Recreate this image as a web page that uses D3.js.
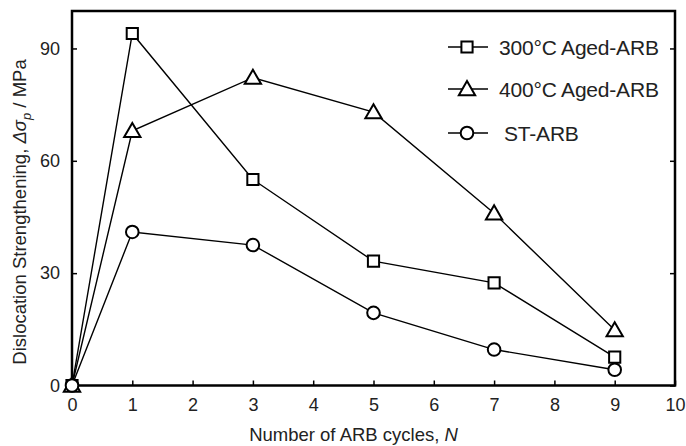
<!DOCTYPE html>
<html><head><meta charset="utf-8">
<script src="https://cdn.jsdelivr.net/npm/d3@7/dist/d3.min.js"></script>
<style>body{margin:0;background:#fff}svg{display:block}text{font-family:"Liberation Sans",Arial,sans-serif;fill:#222}</style>
</head><body><svg id="c" width="686" height="446"></svg>
<script>
const cycles = [0, 1, 3, 5, 7, 9];
const aged300 = [0, 94, 55, 33.2, 27.4, 7.6];
const aged400 = [0, 68, 82.2, 73, 46, 14.8];
const stARB = [0, 41, 37.5, 19.4, 9.6, 4.2];
const seriesNames = ["300°C Aged-ARB", "400°C Aged-ARB", "ST-ARB"];
const xTicks = [0,1,2,3,4,5,6,7,8,9,10];
const yTicks = [0,30,60,90];

const svg = d3.select("#c");
const L=72, R=675, T=11, B=385.5;
const x = d3.scaleLinear().domain([0,10]).range([L,R]);
const y = d3.scaleLinear().domain([0,100]).range([B,T]);

// axes
const xa = svg.append("g").attr("transform",`translate(0,${B})`)
  .call(d3.axisBottom(x).tickValues(xTicks).tickSize(-5).tickPadding(13).tickFormat(d3.format("d")));
const ya = svg.append("g").attr("transform",`translate(${L},0)`)
  .call(d3.axisLeft(y).tickValues(yTicks).tickSize(-5).tickPadding(12).tickFormat(d3.format("d")));
const yr = svg.append("g").attr("transform",`translate(${R},0)`)
  .call(d3.axisRight(y).tickValues(yTicks).tickSize(-5).tickFormat(""));
[xa,ya,yr].forEach(g=>{g.select(".domain").remove();g.selectAll(".tick line").attr("stroke","#000").attr("stroke-width",1.5);
  g.selectAll(".tick text").attr("font-size",18).attr("font-family","Liberation Sans, Arial").attr("fill","#222");});
svg.append("rect").attr("x",L).attr("y",T).attr("width",R-L).attr("height",B-T)
  .attr("fill","none").attr("stroke","#000").attr("stroke-width",2.5);

// titles
svg.append("text").attr("x",(L+R)/2-20).attr("y",441).attr("text-anchor","middle").attr("font-size",18.5)
  .html('Number of ARB cycles, <tspan font-style="italic">N</tspan>');
svg.append("text").attr("transform","translate(26,212) rotate(-90)").attr("text-anchor","middle").attr("font-size",18.5)
  .html('Dislocation Strengthening, <tspan font-style="italic">Δσ</tspan><tspan font-style="italic" font-size="13" dy="5">p</tspan><tspan dy="-5"> / MPa</tspan>');

const data = [aged300, aged400, stARB];
const shapes = [d3.symbolSquare, d3.symbolTriangle, d3.symbolCircle];
const sizes = [125, 115, 125];
const line = d3.line().x((d,i)=>x(cycles[i])).y(d=>y(d));
const sym = (i)=>d3.symbol().type(shapes[i]).size(sizes[i])();

data.forEach((vals,si)=>{
  svg.append("path").attr("d",line(vals)).attr("fill","none").attr("stroke","#000").attr("stroke-width",1.4);
  svg.selectAll(null).data(vals).enter().append("path")
    .attr("d",sym(si))
    .attr("transform",(d,i)=>`translate(${x(cycles[i])},${y(d)+(si===1?1.5:0)})`)
    .attr("fill","#fff").attr("stroke","#000").attr("stroke-width",2);
});

// legend
const ly = [47, 89, 133];
seriesNames.forEach((n,i)=>{
  svg.append("line").attr("x1",448).attr("x2",488).attr("y1",ly[i]).attr("y2",ly[i]).attr("stroke","#000").attr("stroke-width",1.4);
  svg.append("path").attr("d",sym(i)).attr("transform",`translate(467,${ly[i]+(i===1?1.5:0)})`)
    .attr("fill","#fff").attr("stroke","#000").attr("stroke-width",2);
  svg.append("text").attr("x",i===2?504:499).attr("y",ly[i]+7.5).attr("font-size",21).attr("letter-spacing",-0.2).text(n);
});
</script></body></html>
